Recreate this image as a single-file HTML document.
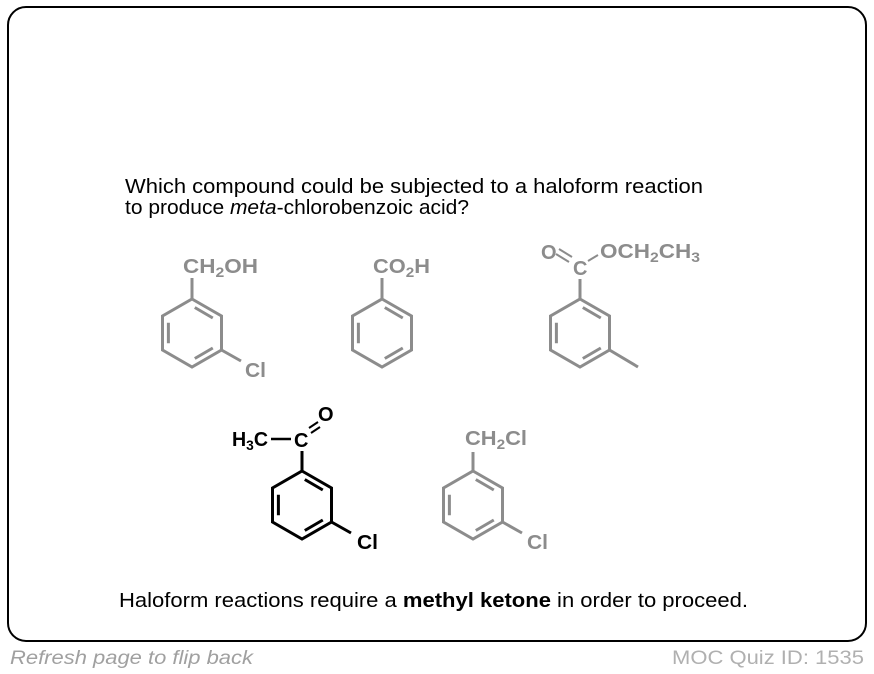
<!DOCTYPE html>
<html><head><meta charset="utf-8"><style>
html,body{margin:0;padding:0;background:#fff;}
svg{display:block;font-family:"Liberation Sans",Arial,sans-serif;}
</style></head><body>
<svg width="874" height="674" viewBox="0 0 874 674" xmlns="http://www.w3.org/2000/svg">
<rect x="8" y="7" width="858" height="634" rx="18" ry="18" fill="#fff" stroke="#000" stroke-width="2"/>
<text x="125" y="193" font-size="20" textLength="578" lengthAdjust="spacingAndGlyphs">Which compound could be subjected to a haloform reaction</text>
<text x="125" y="214" font-size="20" textLength="344" lengthAdjust="spacingAndGlyphs">to produce <tspan font-style="italic">meta</tspan>-chlorobenzoic acid?</text>

<g fill="none" stroke="#8c8c8c" stroke-width="3">
  <g transform="translate(192,299)"><path d="M0,0 L29.5,17 L29.5,51 L0,68 L-29.5,51 L-29.5,17 Z M2.8,8.5 L20.8,19 M20.8,49 L2.8,59.5 M-23.6,44.2 L-23.6,23.8"/><path d="M0,0 L0,-21 M29.5,51 L49,62"/></g>
  <g transform="translate(382,299)"><path d="M0,0 L29.5,17 L29.5,51 L0,68 L-29.5,51 L-29.5,17 Z M2.8,8.5 L20.8,19 M20.8,49 L2.8,59.5 M-23.6,44.2 L-23.6,23.8"/><path d="M0,0 L0,-21"/></g>
  <g transform="translate(580,299)"><path d="M0,0 L29.5,17 L29.5,51 L0,68 L-29.5,51 L-29.5,17 Z M2.8,8.5 L20.8,19 M20.8,49 L2.8,59.5 M-23.6,44.2 L-23.6,23.8"/><path d="M0,0 L0,-20 M29.5,51 L58,68"/></g>
  <path d="M559,249 L572,257 M556,254 L569,262 M588,261 L598,255" stroke-width="2"/>
  <g transform="translate(473,471)"><path d="M0,0 L29.5,17 L29.5,51 L0,68 L-29.5,51 L-29.5,17 Z M2.8,8.5 L20.8,19 M20.8,49 L2.8,59.5 M-23.6,44.2 L-23.6,23.8"/><path d="M0,0 L0,-19 M29.5,51 L49,62"/></g>
</g>
<g fill="none" stroke="#000" stroke-width="3">
  <g transform="translate(302,471)"><path d="M0,0 L29.5,17 L29.5,51 L0,68 L-29.5,51 L-29.5,17 Z M2.8,8.5 L20.8,19 M20.8,49 L2.8,59.5 M-23.6,44.2 L-23.6,23.8"/><path d="M0,0 L0,-20 M29.5,51 L49,62"/></g>
  <path d="M271,439 L291,439" stroke-width="2.5"/>
  <path d="M309,428 L318,422 M311,433 L320,427" stroke-width="2"/>
</g>

<g fill="#8c8c8c" font-weight="bold" font-size="20">
  <text x="183" y="273" textLength="75" lengthAdjust="spacingAndGlyphs">CH<tspan font-size="14" dy="4">2</tspan><tspan dy="-4">OH</tspan></text>
  <text x="245" y="377" textLength="21" lengthAdjust="spacingAndGlyphs">Cl</text>
  <text x="373" y="273" textLength="57" lengthAdjust="spacingAndGlyphs">CO<tspan font-size="14" dy="4">2</tspan><tspan dy="-4">H</tspan></text>
  <text x="541" y="259">O</text>
  <text x="573" y="275">C</text>
  <text x="600" y="258" textLength="100" lengthAdjust="spacingAndGlyphs">OCH<tspan font-size="14" dy="4">2</tspan><tspan dy="-4">CH</tspan><tspan font-size="14" dy="4">3</tspan></text>
  <text x="465" y="445" textLength="62" lengthAdjust="spacingAndGlyphs">CH<tspan font-size="14" dy="4">2</tspan><tspan dy="-4">Cl</tspan></text>
  <text x="527" y="549" textLength="21" lengthAdjust="spacingAndGlyphs">Cl</text>
</g>
<g fill="#000" font-weight="bold" font-size="20">
  <text x="232" y="446" textLength="36" lengthAdjust="spacingAndGlyphs">H<tspan font-size="14" dy="4">3</tspan><tspan dy="-4">C</tspan></text>
  <text x="294" y="447">C</text>
  <text x="318" y="421">O</text>
  <text x="357" y="549" textLength="21" lengthAdjust="spacingAndGlyphs">Cl</text>
</g>

<text x="119" y="607" font-size="20" textLength="629" lengthAdjust="spacingAndGlyphs">Haloform reactions require a <tspan font-weight="bold">methyl ketone</tspan> in order to proceed.</text>
<text x="10" y="664" font-size="19" font-style="italic" fill="#a0a0a0" textLength="243" lengthAdjust="spacingAndGlyphs">Refresh page to flip back</text>
<text x="672" y="664" font-size="19" fill="#b0b0b0" textLength="192" lengthAdjust="spacingAndGlyphs">MOC Quiz ID: 1535</text>
</svg>
</body></html>
